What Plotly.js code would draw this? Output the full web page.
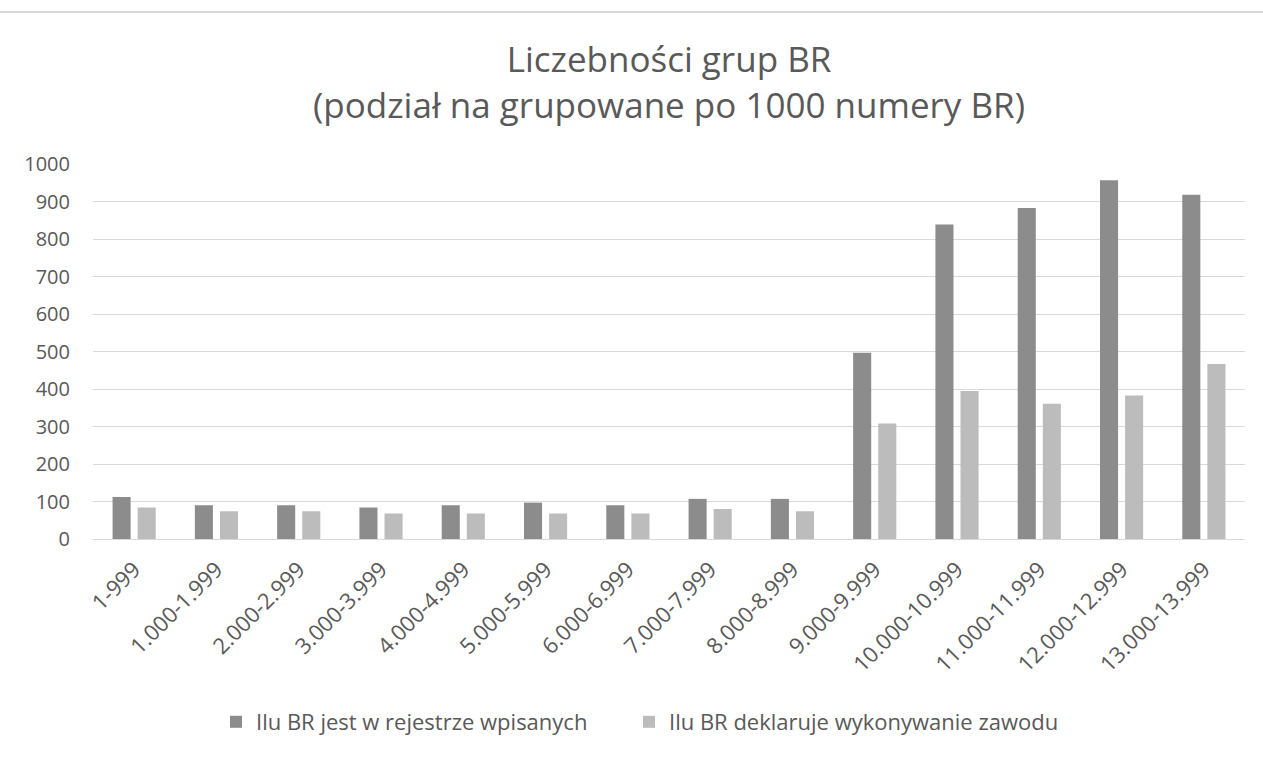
<!DOCTYPE html>
<html>
<head>
<meta charset="utf-8">
<script src="https://cdn.plot.ly/plotly-3.0.1.min.js"></script>
<style>
html,body{margin:0;padding:0;background:#fff;}
#chart{width:1263px;height:758px;}
</style>
</head>
<body>
<div id="chart"></div>
<script>
const categories = ["1-999","1.000-1.999","2.000-2.999","3.000-3.999","4.000-4.999","5.000-5.999","6.000-6.999","7.000-7.999","8.000-8.999","9.000-9.999","10.000-10.999","11.000-11.999","12.000-12.999","13.000-13.999"];
const registered = [112, 90, 90, 84, 90, 97, 90, 107, 107, 497, 839, 883, 957, 918];
const practicing = [84, 74, 74, 68, 68, 68, 68, 80, 74, 308, 395, 361, 383, 467];
const seriesNames = ["Ilu BR jest w rejestrze wpisanych", "Ilu BR deklaruje wykonywanie zawodu"];
const yTicks = [0,100,200,300,400,500,600,700,800,900,1000];

const FONT = "'Open Sans', Lato, sans-serif";
const TXT = "#595959";

const traces = [
  {type:"bar", x:categories, y:registered, name:seriesNames[0], marker:{color:"#8c8c8c"}, hoverinfo:"none", legend:"legend"},
  {type:"bar", x:categories, y:practicing, name:seriesNames[1], marker:{color:"#bcbcbc"}, hoverinfo:"none", legend:"legend2"}
];

const legendBase = {orientation:"h", yanchor:"middle", y:-0.488, xanchor:"left", font:{size:22, color:TXT, family:FONT}, itemsizing:"constant", itemwidth:30, bgcolor:"rgba(0,0,0,0)"};

const layout = {
  width:1263, height:758,
  paper_bgcolor:"#ffffff", plot_bgcolor:"#ffffff",
  margin:{l:93, r:18, t:164, b:219},
  barmode:"group", bargap:0.39, bargroupgap:0.28,
  font:{family:FONT, color:TXT, size:20},
  title:{text:"Liczebności grup BR<br>(podział na grupowane po 1000 numery BR)", font:{family:FONT, size:35, color:TXT}, x:0.5, xanchor:"center", xref:"paper", y:1-72/758, yanchor:"top"},
  xaxis:{type:"category", tickangle:-45, tickfont:{size:22, color:TXT, family:FONT}, showgrid:false, zeroline:false, showline:true, linecolor:"#d9d9d9", linewidth:1, ticks:"", ticklabelstandoff:8},
  yaxis:{range:[0,1000], tickvals:yTicks, ticktext:yTicks.map(String), tickfont:{size:20, color:TXT, family:FONT}, showgrid:true, gridcolor:"#d9d9d9", gridwidth:1, zeroline:false, showline:false, ticks:"", ticklabelstandoff:22, fixedrange:true},
  showlegend:true,
  legend:Object.assign({}, legendBase, {x:(216-93)/1152}),
  legend2:Object.assign({}, legendBase, {x:(629-93)/1152}),
  shapes:[{type:"line", xref:"paper", yref:"paper", x0:-93/1152, x1:1170/1152, y0:(539-12)/375, y1:(539-12)/375, line:{color:"#d9d9d9", width:2}}]
};

Plotly.newPlot("chart", traces, layout, {displayModeBar:false, staticPlot:true});
</script>
</body>
</html>
